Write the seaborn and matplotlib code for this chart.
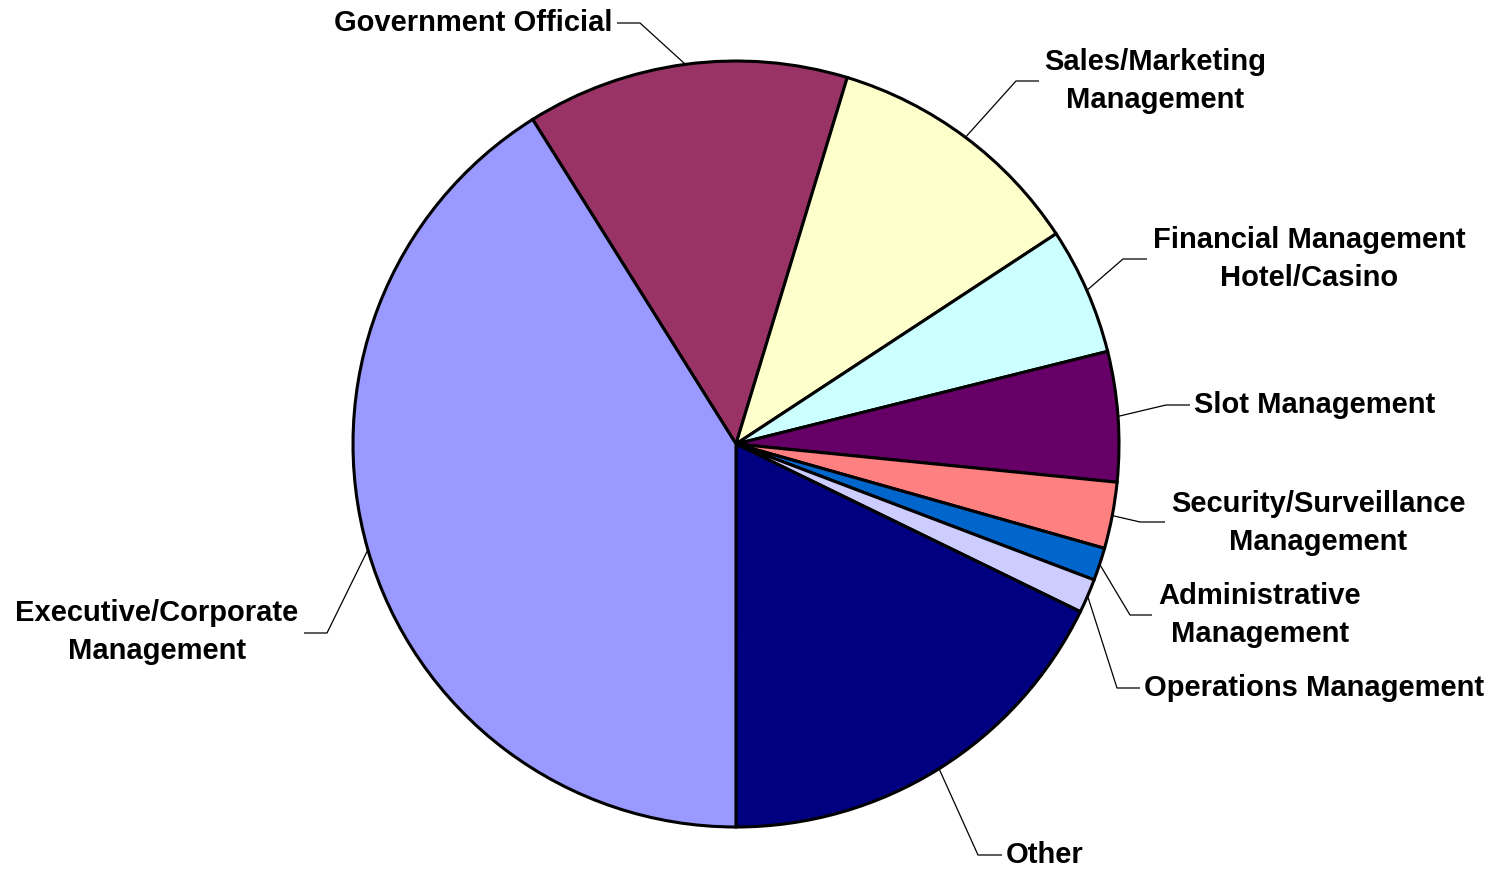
import matplotlib
matplotlib.use("Agg")
import matplotlib.pyplot as plt
import seaborn as sns
import numpy as np

sns.set_theme(style="white")
plt.rcParams['font.family'] = ['Liberation Sans', 'DejaVu Sans']

# Data (percent of respondents), clockwise order starting at the Government slice
categories = ["Government Official", "Sales/Marketing\nManagement",
              "Financial Management\nHotel/Casino", "Slot Management",
              "Security/Surveillance\nManagement", "Administrative\nManagement",
              "Operations Management", "Other", "Executive/Corporate\nManagement"]
values = [13.60, 11.06, 5.36, 5.48, 2.80, 1.38, 1.44, 17.79, 41.09]
colors = ["#993366", "#FFFFCC", "#CCFFFF", "#660066", "#FF8080",
          "#0066CC", "#CCCCFF", "#000080", "#9999FF"]

# Layout (pixel coordinates, y measured from top)
W, H = 1499, 872
cx, cy, R = 736, 444, 383
start_angle = 122.07
# elbow point, end of horizontal segment, label anchor, alignment
label_layout = [
    ((640, 23), (617, 23), (613, 23), 'right'),
    ((1016, 81), (1039, 81), (1155, 81), 'center'),
    ((1123, 259), (1147, 259), (1309, 259), 'center'),
    ((1166, 405), (1190, 405), (1194, 405), 'left'),
    ((1140, 522), (1165, 522), (1318, 523), 'center'),
    ((1130, 615), (1152, 615), (1260, 615), 'center'),
    ((1117, 688), (1140, 688), (1144, 688), 'left'),
    ((978, 855), (1002, 855), (1006, 855), 'left'),
    ((327, 633), (304, 633), (157, 632), 'center'),
]

fig = plt.figure(figsize=(W / 100, H / 100), dpi=100)
ax = fig.add_axes([0, 0, 1, 1])

wedges, _ = ax.pie(values, colors=colors, startangle=start_angle, counterclock=False,
                   center=(cx, H - cy), radius=R,
                   wedgeprops=dict(edgecolor='black', linewidth=2.2))
ax.set_xlim(0, W)
ax.set_ylim(0, H)
ax.set_aspect('equal')
ax.axis('off')

for w, lab, (elbow, end, anchor, ha) in zip(wedges, categories, label_layout):
    mid = np.deg2rad((w.theta1 + w.theta2) / 2)
    sx = cx + R * np.cos(mid)
    sy = (H - cy) + R * np.sin(mid)
    ax.plot([sx, elbow[0], end[0]], [sy, H - elbow[1], H - end[1]],
            color='black', lw=0.9, solid_capstyle='butt')
    ax.text(anchor[0], H - anchor[1], lab, ha=ha, va='center', ma='center',
            fontsize=21, fontweight='bold', color='black', linespacing=1.42)

fig.savefig("out.png", dpi=100, facecolor='white')
